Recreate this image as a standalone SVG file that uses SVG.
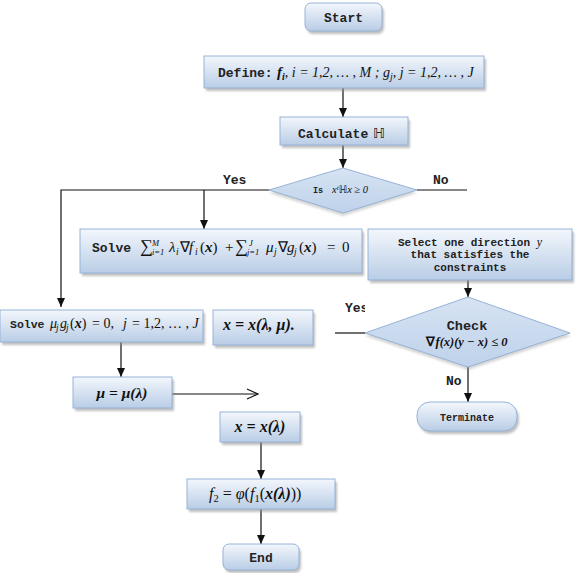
<svg xmlns="http://www.w3.org/2000/svg" width="576" height="573" viewBox="0 0 576 573">
<style>
.box{fill:url(#g);stroke:#95b3d7;stroke-width:1}
.sh{fill:#8c8c8c;opacity:.55;filter:url(#blur)}
.dia{fill:url(#gd);stroke:#95b3d7;stroke-width:1}
.mono{font-family:"Liberation Mono","Courier New",monospace;font-weight:bold;fill:#222}
.m{font-family:"Liberation Serif","Times New Roman",serif;font-style:italic;fill:#111}
.u{font-family:"Liberation Serif","Times New Roman",serif;fill:#111}
.mb{font-family:"Liberation Serif","Times New Roman",serif;font-style:italic;font-weight:bold;fill:#111}
.ln{fill:none;stroke:#111;stroke-width:1.2}
</style>
<defs>
<linearGradient id="g" x1="0" y1="0" x2="0" y2="1"><stop offset="0" stop-color="#f3f7fc"/><stop offset="1" stop-color="#b9cde6"/></linearGradient>
<linearGradient id="gd" x1="0" y1="0" x2="0" y2="1"><stop offset="0" stop-color="#d6e3f3"/><stop offset="1" stop-color="#bfd2ea"/></linearGradient>
<filter id="blur" x="-10%" y="-10%" width="120%" height="130%"><feGaussianBlur stdDeviation="1"/></filter>
<marker id="ah" markerWidth="10" markerHeight="10" refX="9" refY="5" orient="auto" markerUnits="userSpaceOnUse"><path d="M0,1 L9,5 L0,9 Z" fill="#111"/></marker>
<marker id="oa" markerWidth="14" markerHeight="12" refX="12" refY="6" orient="auto" markerUnits="userSpaceOnUse"><path d="M1,1 L12,6 L1,11" fill="none" stroke="#111" stroke-width="1.2"/></marker>
<clipPath id="cy"><rect x="340" y="295" width="25" height="25"/></clipPath>
</defs>

<g id="connectors">
<line class="ln" x1="343" y1="88" x2="343" y2="117" marker-end="url(#ah)"/>
<line class="ln" x1="343" y1="145" x2="343" y2="168" marker-end="url(#ah)"/>
<polyline class="ln" points="269,190 61,190 61,307" marker-end="url(#ah)"/>
<line class="ln" x1="204" y1="190" x2="204" y2="229" marker-end="url(#ah)"/>
<line class="ln" x1="417" y1="190" x2="467" y2="190"/>
<line class="ln" x1="468" y1="280" x2="468" y2="297" marker-end="url(#ah)"/>
<line class="ln" x1="365" y1="333" x2="335" y2="333"/>
<line class="ln" x1="468" y1="367" x2="468" y2="402" marker-end="url(#ah)"/>
<line class="ln" x1="121" y1="342" x2="121" y2="377" marker-end="url(#ah)"/>
<line class="ln" x1="172" y1="394" x2="258" y2="394" marker-end="url(#oa)"/>
<line class="ln" x1="261" y1="442" x2="261" y2="479" marker-end="url(#ah)"/>
<line class="ln" x1="261" y1="509" x2="261" y2="544" marker-end="url(#ah)"/>
<text class="mono" x="223" y="184" font-size="13">Yes</text>
<text class="mono" x="433" y="184" font-size="13">No</text>
<text class="mono" x="345" y="312" font-size="13" clip-path="url(#cy)">Yes</text>
<text class="mono" x="446" y="385" font-size="13">No</text>
</g>

<g id="start">
<rect class="sh" x="307" y="6" width="77" height="28" rx="6"/>
<rect class="box" x="305" y="3" width="77" height="28" rx="6"/>
<text class="mono" x="343.5" y="22" font-size="13" text-anchor="middle">Start</text>
</g>

<g id="define">
<rect class="sh" x="206" y="59" width="280" height="32"/>
<rect class="box" x="204" y="56" width="280" height="32"/>
<text y="77"><tspan class="mono" x="218" font-size="13">Define:</tspan><tspan class="mb" x="277" font-size="15">f</tspan><tspan class="mb" font-size="10" dy="3">i</tspan><tspan class="m" font-size="14" dy="-3">, i = 1,2, … , M ; g</tspan><tspan class="m" font-size="10" dy="3">j</tspan><tspan class="m" font-size="14" dy="-3">, j = 1,2, … , J</tspan></text>
</g>

<g id="calculate">
<rect class="sh" x="282" y="120" width="128" height="28"/>
<rect class="box" x="280" y="117" width="128" height="28"/>
<text y="138"><tspan class="mono" x="298" font-size="13">Calculate</tspan><tspan x="373" font-size="14" font-family="DejaVu Sans,sans-serif" fill="#222">ℍ</tspan></text>
</g>

<g id="decision1">
<polygon points="343,171 417,193 343,216 269,193" fill="#999" opacity=".4" filter="url(#blur)"/>
<polygon class="dia" points="343,168 417,190 343,213 269,190"/>
<text y="193"><tspan class="mono" x="313" font-size="8.5">Is</tspan><tspan class="m" x="332" font-size="10.5">x</tspan><tspan class="m" font-size="7" dy="-3">t</tspan><tspan font-size="10" dy="3" font-family="DejaVu Sans,sans-serif">ℍ</tspan><tspan class="m" font-size="10.5">x ≥ 0</tspan></text>
</g>

<g id="solve1">
<rect class="sh" x="82" y="232" width="282" height="44"/>
<rect class="box" x="80" y="229" width="282" height="44"/>
<text y="252" font-size="15"><tspan class="mono" x="92" font-size="13">Solve</tspan><tspan class="u" x="140" font-size="18">∑</tspan><tspan class="m" x="152" font-size="8.5" dy="-6">M</tspan><tspan class="m" x="152" font-size="8.5" dy="9">i=1</tspan><tspan class="m" x="169" dy="-3">λ</tspan><tspan class="m" x="176" font-size="9.5" dy="3">i</tspan><tspan class="u" x="180" dy="-3">∇</tspan><tspan class="m" x="189">f</tspan><tspan class="m" x="195" font-size="9.5" dy="3">i</tspan><tspan class="u" x="200" dy="-3">(</tspan><tspan class="mb">x</tspan><tspan class="u">)</tspan><tspan class="u" x="225">+</tspan><tspan class="u" x="235" font-size="18">∑</tspan><tspan class="m" x="249" font-size="8.5" dy="-6">J</tspan><tspan class="m" x="247" font-size="8.5" dy="9">j=1</tspan><tspan class="m" x="266" dy="-3">μ</tspan><tspan class="m" x="274" font-size="9.5" dy="3">j</tspan><tspan class="u" x="278" dy="-3">∇</tspan><tspan class="m" x="287">g</tspan><tspan class="m" x="294" font-size="9.5" dy="3">j</tspan><tspan class="u" x="299" dy="-3">(</tspan><tspan class="mb">x</tspan><tspan class="u">)</tspan><tspan class="u" x="327">=</tspan><tspan class="u" x="342">0</tspan></text>
</g>

<g id="select">
<rect class="sh" x="370" y="232" width="204" height="51"/>
<rect class="box" x="368" y="229" width="204" height="51"/>
<text class="mono" font-size="11" text-anchor="middle"><tspan x="470" y="246">Select one direction <tspan class="m" font-weight="normal" font-size="12">y</tspan></tspan><tspan x="470" y="258">that satisfies the</tspan><tspan x="470" y="271">constraints</tspan></text>
</g>

<g id="check">
<polygon points="468,300 571,336 468,370 365,336" fill="#999" opacity=".4" filter="url(#blur)"/>
<polygon class="dia" points="468,297 570,333 468,367 365,333"/>
<text class="mono" x="467" y="330" font-size="13.5" text-anchor="middle">Check</text>
<text x="467" y="346" font-size="12.5" text-anchor="middle"><tspan class="u" font-weight="bold">∇</tspan><tspan class="mb">f(x)(y − x) ≤ 0</tspan></text>
</g>

<g id="terminate">
<rect class="sh" x="419" y="405" width="100" height="29" rx="13"/>
<rect class="box" x="417" y="402" width="100" height="29" rx="13"/>
<text class="mono" x="467" y="421" font-size="10" text-anchor="middle">Terminate</text>
</g>

<g id="solve2">
<rect class="sh" x="2" y="313" width="203" height="32"/>
<rect class="box" x="0" y="310" width="203" height="32"/>
<text y="328" font-size="14"><tspan class="mono" x="10" font-size="11.5">Solve</tspan><tspan class="m" x="50">μ</tspan><tspan class="m" x="56" font-size="9.5" dy="3">j</tspan><tspan class="m" x="60" dy="-3">g</tspan><tspan class="m" x="66" font-size="9.5" dy="3">j</tspan><tspan class="u" x="70" dy="-3">(</tspan><tspan class="mb">x</tspan><tspan class="u">)</tspan><tspan class="u" x="92">= 0,</tspan><tspan class="m" x="123">j</tspan><tspan class="u" x="132">= 1,2, … , </tspan><tspan class="m">J</tspan></text>
</g>

<g id="xlm">
<rect class="sh" x="215" y="313" width="100" height="35"/>
<rect class="box" x="213" y="310" width="100" height="35"/>
<text class="mb" x="223" y="330" font-size="16">x = x(λ, μ).</text>
</g>

<g id="mu">
<rect class="sh" x="75" y="380" width="99" height="31"/>
<rect class="box" x="73" y="377" width="99" height="31"/>
<text class="mb" x="122" y="398" font-size="15.5" text-anchor="middle">μ = μ(λ)</text>
</g>

<g id="xl">
<rect class="sh" x="222" y="415" width="80" height="30"/>
<rect class="box" x="220" y="412" width="80" height="30"/>
<text class="mb" x="260" y="432" font-size="16" text-anchor="middle">x = x(λ)</text>
</g>

<g id="f2">
<rect class="sh" x="189" y="482" width="148" height="30"/>
<rect class="box" x="187" y="479" width="148" height="30"/>
<text y="499" font-size="16"><tspan class="m" x="209">f</tspan><tspan class="u" font-size="10.5" dy="3">2</tspan><tspan class="u" dy="-3"> = </tspan><tspan class="m">φ</tspan><tspan class="u">(</tspan><tspan class="m">f</tspan><tspan class="u" font-size="10.5" dy="3">1</tspan><tspan class="u" dy="-3">(</tspan><tspan class="mb">x(λ)</tspan><tspan class="u">))</tspan></text>
</g>

<g id="end">
<rect class="sh" x="225" y="547" width="76" height="26" rx="6"/>
<rect class="box" x="223" y="544" width="76" height="26" rx="6"/>
<text class="mono" x="261" y="562" font-size="13" text-anchor="middle">End</text>
</g>
</svg>
